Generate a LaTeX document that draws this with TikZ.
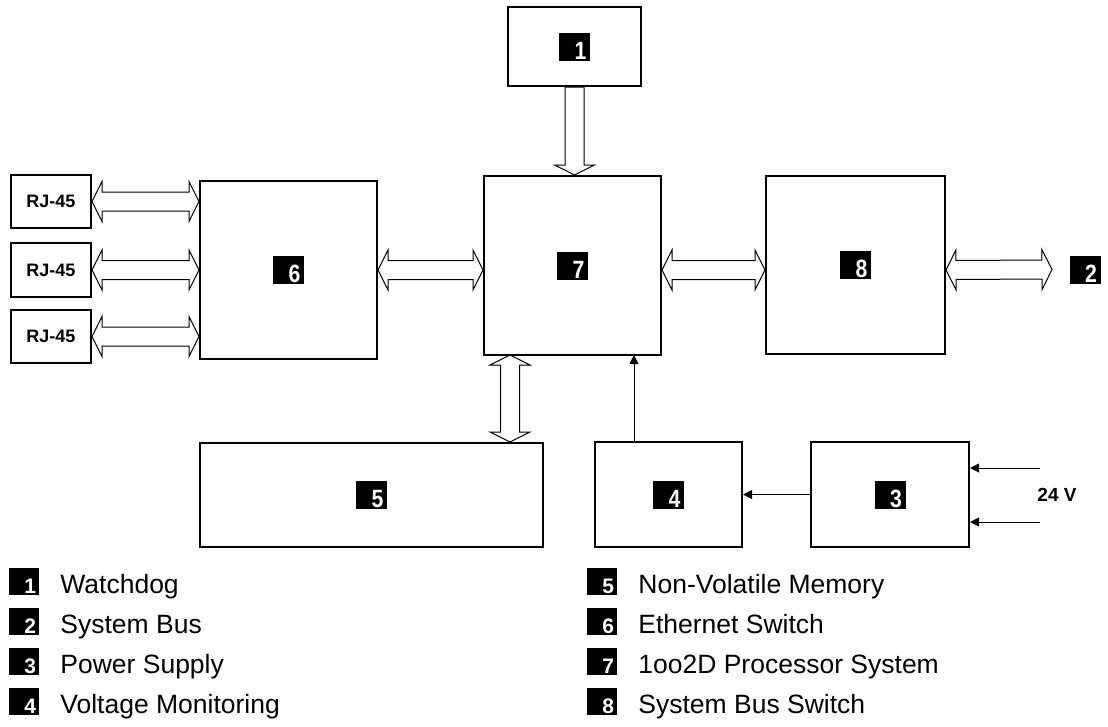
\documentclass[tikz,border=0pt]{standalone}
\usepackage{fontspec}
\setmainfont{Liberation Sans}
\newfontfamily\tagfont[FakeStretch=0.85]{Liberation Sans}
\usetikzlibrary{calc,positioning,arrows.meta}

% hollow bus arrow with a head at both ends
\newcommand{\busarrow}[2]{%
  \draw[bus] (#1) -- ($(#1)!10pt!(#2)!20pt!90:(#2)$) -- ($(#1)!10pt!(#2)!9.5pt!90:(#2)$)
    -- ($(#2)!10pt!(#1)!9.5pt!-90:(#1)$) -- ($(#2)!10pt!(#1)!20pt!-90:(#1)$) -- (#2)
    -- ($(#2)!10pt!(#1)!20pt!90:(#1)$) -- ($(#2)!10pt!(#1)!9.5pt!90:(#1)$)
    -- ($(#1)!10pt!(#2)!9.5pt!-90:(#2)$) -- ($(#1)!10pt!(#2)!20pt!-90:(#2)$) -- cycle;}
% hollow bus arrow with one head
\newcommand{\busarrowone}[2]{%
  \draw[bus] ($(#1)!9.5pt!90:(#2)$) -- ($(#2)!10pt!(#1)!9.5pt!-90:(#1)$)
    -- ($(#2)!10pt!(#1)!20pt!-90:(#1)$) -- (#2) -- ($(#2)!10pt!(#1)!20pt!90:(#1)$)
    -- ($(#2)!10pt!(#1)!9.5pt!90:(#1)$) -- ($(#1)!9.5pt!-90:(#2)$) -- cycle;}
% right aligned number inside a tag
\newcommand{\tagnum}[1]{\makebox[24pt][r]{#1}}

\begin{document}
\begin{tikzpicture}[x=1pt,y=-1pt,
    blk/.style={draw, line width=2pt, inner sep=0pt},
    tagbox/.style={fill=black, text=white, font=\tagfont\bfseries\fontsize{25}{25}\selectfont,
        inner xsep=3.5pt, inner ysep=0pt, text height=26.5pt, text depth=1.5pt},
    legtag/.style={fill=black, text=white, font=\bfseries\fontsize{21}{21}\selectfont,
        inner xsep=3pt, inner ysep=0pt, text height=25pt, text depth=2pt},
    legtext/.style={font=\fontsize{26.5}{30}\selectfont, inner sep=0pt},
    bus/.style={draw, line width=1pt, fill=white, line join=miter},
    sig/.style={line width=1pt, -{Triangle[length=9pt,width=9pt]}}]
        \useasboundingbox (0,0) rectangle (1108,726);

        % blocks
        \node[blk, minimum width=133, minimum height=79] (wd) at (574.5,46.5) {};
        \node[blk, minimum width=177, minimum height=178] (esw) at (288.5,270) {};
        \node[blk, minimum width=177, minimum height=179] (cpu) at (572.5,265.5) {};
        \node[blk, minimum width=179, minimum height=178] (sbsw) at (855.5,265) {};
        \node[blk, minimum width=343, minimum height=104] (nvm) at (371.5,495) {};
        \node[blk, minimum width=147, minimum height=105] (vmon) at (668.5,494.5) {};
        \node[blk, minimum width=158, minimum height=105] (psu) at (890,494.5) {};

        \node[blk, font=\bfseries\fontsize{18}{18}\selectfont, minimum width=80, minimum height=53] (rj1) at (51,201.5) {RJ-45};
        \node[blk, font=\bfseries\fontsize{18}{18}\selectfont, minimum width=80, minimum height=54] (rj2) at (51,270) {RJ-45};
        \node[blk, font=\bfseries\fontsize{18}{18}\selectfont, minimum width=80, minimum height=53] (rj3) at (51,336.5) {RJ-45};

        % number tags
        \node[tagbox] (t1) at (wd) {\tagnum{1}};
        \node[tagbox] (t6) at (esw) {\tagnum{6}};
        \node[tagbox] (t7) at (cpu) {\tagnum{7}};
        \node[tagbox] (t8) at (sbsw) {\tagnum{8}};
        \node[tagbox] (t5) at (nvm) {\tagnum{5}};
        \node[tagbox] (t4) at (vmon) {\tagnum{4}};
        \node[tagbox] (t3) at (psu) {\tagnum{3}};
        \node[tagbox] (t2) at (1085,269.5) {\tagnum{2}};

        \node[font=\bfseries\fontsize{19}{19}\selectfont, inner sep=0pt] (vin) at (1057,495) {24 V};

        % end points
        \coordinate (e1) at (rj1.east -| esw.west);
        \coordinate (e2) at (rj2.east -| esw.west);
        \coordinate (e3) at (rj3.east -| esw.west);
        \coordinate (c6) at (esw.east -| cpu.west);
        \coordinate (c7) at (esw.east -| cpu.east);
        \coordinate (c8) at (esw.east -| sbsw.west);
        \coordinate (s8) at (esw.east -| sbsw.east);
        \coordinate (busend) at (1052,269.5);
        \coordinate (wdin) at (wd.south |- cpu.north);
        \coordinate (memtop) at (510,355);
        \coordinate (memend) at (memtop |- nvm.north);
        \coordinate (vmtop) at (634,355);
        \coordinate (vmend) at (vmtop |- vmon.north);
        \coordinate (in1) at (1040,468);
        \coordinate (in2) at (1040,522);

        % buses
        \busarrow{rj1.east}{e1}
        \busarrow{rj2.east}{e2}
        \busarrow{rj3.east}{e3}
        \busarrow{esw.east}{c6}
        \busarrow{c7}{c8}
        \busarrow{s8}{busend}
        \busarrow{memtop}{memend}
        \busarrowone{wd.south}{wdin}

        % signals
        \draw[sig] (vmend) -- (vmtop);
        \draw[sig] (psu.west) -- (vmon.east);
        \draw[sig] (in1) -- (in1 -| psu.east);
        \draw[sig] (in2) -- (in2 -| psu.east);

        % legend
        \node[legtag] (l1) at (24,581.5) {\tagnum{1}};
        \node[legtag] (l2) at (24,621.5) {\tagnum{2}};
        \node[legtag] (l3) at (24,661.5) {\tagnum{3}};
        \node[legtag] (l4) at (24,701.5) {\tagnum{4}};
        \node[legtag] (l5) at (602,581.5) {\tagnum{5}};
        \node[legtag] (l6) at (602,621.5) {\tagnum{6}};
        \node[legtag] (l7) at (602,661.5) {\tagnum{7}};
        \node[legtag] (l8) at (602,701.5) {\tagnum{8}};
        \node[legtext, right=21pt of l1.base east, anchor=base west] (w1) {Watchdog};
        \node[legtext, right=21pt of l2.base east, anchor=base west] (w2) {System Bus};
        \node[legtext, right=21pt of l3.base east, anchor=base west] (w3) {Power Supply};
        \node[legtext, right=21pt of l4.base east, anchor=base west] (w4) {Voltage Monitoring};
        \node[legtext, right=21pt of l5.base east, anchor=base west] (w5) {Non-Volatile Memory};
        \node[legtext, right=21pt of l6.base east, anchor=base west] (w6) {Ethernet Switch};
        \node[legtext, right=21pt of l7.base east, anchor=base west] (w7) {1oo2D Processor System};
        \node[legtext, right=21pt of l8.base east, anchor=base west] (w8) {System Bus Switch};
    \end{tikzpicture}
\end{document}
